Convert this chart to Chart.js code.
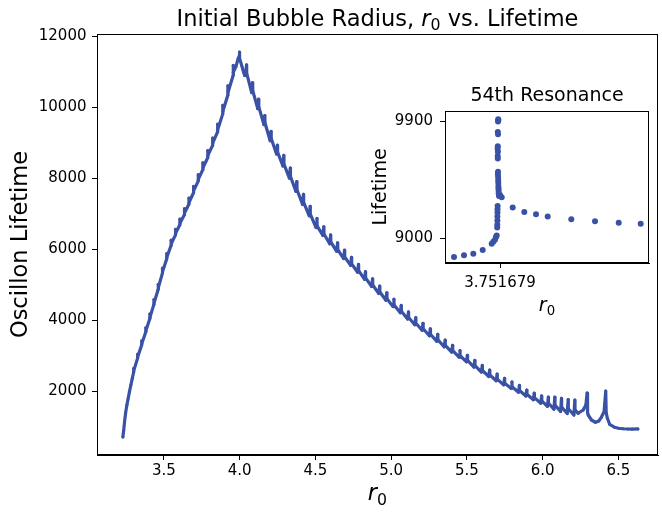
<!DOCTYPE html>
<html><head><meta charset="utf-8">
<script src="https://cdn.jsdelivr.net/npm/chart.js@4/dist/chart.umd.min.js"></script>
<style>
html,body{margin:0;padding:0;background:#fff;}
#wrap{position:relative;width:662px;height:517px;}
#main{position:absolute;left:0;top:0;}
#inset{position:absolute;left:360px;top:80px;}
</style></head>
<body><div id="wrap">
<canvas id="main" width="662" height="517"></canvas>
<canvas id="inset" width="300" height="240"></canvas>
</div>
<script>
// ---------- main chart data (r0, lifetime) ----------
const leftR0 = [3.229,3.234,3.240,3.247,3.255,3.263,3.272,3.282,3.291,
3.300,3.300,3.301, 3.326,3.326,3.327, 3.353,3.353,3.354, 3.380,3.380,3.381, 3.407,3.407,3.408,
3.434,3.434,3.435, 3.462,3.462,3.463, 3.490,3.490,3.491, 3.518,3.518,3.519, 3.547,3.547,3.548,
3.576,3.576,3.577, 3.605,3.605,3.606, 3.635,3.635,3.636, 3.665,3.665,3.666, 3.695,3.695,3.696,
3.726,3.726,3.727, 3.757,3.757,3.758, 3.789,3.789,3.790, 3.821,3.821,3.822, 3.854,3.854,3.855,
3.888,3.888,3.889, 3.922,3.922,3.923, 3.957,3.957,3.958,
3.975,3.990,3.997,3.998,4.000,4.012,4.025,4.033];
const leftLife = [720,900,1150,1400,1610,1790,1990,2190,2370,
2550,2650,2580, 2940,3050,2975, 3307,3427,3343, 3675,3795,3711, 4055,4185,4094,
4460,4590,4499, 4880,5020,4922, 5333,5473,5375, 5734,5884,5779, 6111,6261,6156,
6410,6570,6458, 6697,6857,6745, 6979,7149,7030, 7279,7449,7330, 7597,7777,7651,
7926,8106,7980, 8253,8443,8310, 8586,8786,8646, 8931,9141,8994, 9310,9530,9376,
9820,10060,9892, 10352,10612,10430, 10906,11186,10990,
11150,11380,11450,11560,11380,11200,11000,10900];

// right branch: per resonance -> valley before, peak, value just after
const rightR0 = [4.039,4.045,4.046, 4.079,4.085,4.086, 4.119,4.125,4.126, 4.160,4.166,4.167,
4.201,4.207,4.208, 4.243,4.249,4.250, 4.285,4.291,4.292, 4.328,4.334,4.335, 4.371,4.377,4.378,
4.415,4.421,4.422, 4.459,4.465,4.466, 4.504,4.510,4.511, 4.549,4.555,4.556, 4.594,4.600,4.601,
4.640,4.646,4.647, 4.686,4.692,4.693, 4.732,4.738,4.739, 4.778,4.784,4.785, 4.824,4.830,4.831,
4.871,4.877,4.878, 4.918,4.924,4.925, 4.965,4.971,4.972, 5.012,5.018,5.019, 5.060,5.066,5.067,
5.108,5.114,5.115, 5.156,5.162,5.163, 5.204,5.210,5.211, 5.252,5.258,5.259, 5.301,5.307,5.308,
5.350,5.356,5.357, 5.399,5.405,5.406, 5.448,5.454,5.455, 5.497,5.503,5.504, 5.546,5.552,5.553,
5.595,5.601,5.602, 5.644,5.650,5.651, 5.693,5.699,5.700, 5.742,5.748,5.749, 5.791,5.797,5.798,
5.840,5.846,5.847, 5.889,5.895,5.896, 5.938,5.944,5.945, 5.987,5.993,5.994, 6.031,6.037,6.038,
6.074,6.080,6.081, 6.118,6.124,6.125, 6.162,6.168,6.169, 6.206,6.212,6.213];
const rightLife = [10910,11200,10969, 10420,10700,10476, 9966,10235,10018, 9516,9774,9564,
9065,9327,9124, 8688,8939,8743, 8351,8650,8403, 8008,8295,8056, 7638,7915,7682,
7270,7550,7325, 6948,7215,6999, 6618,6875,6666, 6394,6640,6438, 6160,6410,6212,
5948,6190,5998, 5745,5980,5794, 5551,5780,5597, 5358,5580,5403, 5159,5375,5202,
4958,5175,5001, 4760,4970,4802, 4571,4780,4613, 4391,4600,4436, 4215,4425,4260,
4039,4240,4082, 3879,4080,3922, 3725,3920,3766, 3571,3765,3612, 3412,3610,3456,
3257,3450,3299, 3110,3300,3152, 2965,3155,3007, 2836,3020,2876, 2689,2875,2729,
2549,2735,2592, 2422,2605,2465, 2304,2490,2347, 2187,2370,2230, 2088,2270,2131,
1980,2170,2027, 1871,2041,1922, 1767,1952,1826, 1667,1874,1734, 1582,1843,1668,
1502,1839,1615, 1435,1804,1559, 1381,1772,1513, 1337,1760,1480];

const tailR0 = [6.234,6.267,6.285,6.293,6.296,6.300,6.322,6.348,6.370,6.387,6.405,6.416,6.419,
6.427,6.442,6.475,6.500,6.530,6.562,6.590,6.628];
const tailLife = [1386,1479,1620,1957,1420,1338,1197,1132,1170,1273,1431,2014,1400,
1245,1076,992,965,950,944,940,945];

const mainXTicks = [3.5,4.0,4.5,5.0,5.5,6.0,6.5];
const mainXTickLabels = ['3.5','4.0','4.5','5.0','5.5','6.0','6.5'];
const mainYTicks = [2000,4000,6000,8000,10000,12000];
const mainYTickLabels = ['2000','4000','6000','8000','10000','12000'];

// ---------- inset (54th resonance) ----------
const insetR0 = [3.7516789540,3.7516789640,3.7516789733,3.7516789827,3.7516789917,3.7516789933,
3.7516789950,3.7516789960,3.7516789967,
3.7516789982,3.7516789983,3.7516789980,3.7516789978,3.7516789980,3.7516789978,3.7516789976,
3.7516789979,3.7516789977,3.7516789978,3.7516789980,3.7516789979,3.7516789981,3.7516789982,
3.7516789983,3.7516789984,3.7516789985,3.7516789986,3.7516789987,3.7516789990,
3.7516789976,3.7516789975,3.7516789975,3.7516789974,3.7516789974,3.7516789973,3.7516789972,
3.7516790000,3.7516790017,
3.7516790127,3.7516790243,3.7516790360,3.7516790477,3.7516790713,3.7516790950,3.7516791187,3.7516791407];
const insetLife = [8855,8867,8880,8908,8957,8972,
8987,9008,9020,
9913,9905,9897,9816,9798,9706,9686,
9663,9630,9612,9510,9492,9472,9446,
9426,9400,9382,9365,9344,9324,
9247,9222,9196,9166,9135,9102,9081,
9331,9314,
9234,9201,9183,9166,9145,9130,9117,9110];
const insetXTicks = [3.751679];
const insetXTickLabels = ['3.751679'];
const insetYTicks = [9000,9900];
const insetYTickLabels = ['9000','9900'];

const DOT = '#3a52a6';
const FONT = "'DejaVu Sans'";
Chart.defaults.font.family = FONT;
Chart.defaults.color = '#000';

function toPts(xs, ys){ return xs.map((x,i)=>({x:x, y:ys[i]})); }

// text with math-like pieces, centred at x, baseline at y
function drawMath(ctx, parts, x, y, size, rot){
  ctx.save();
  ctx.translate(x, y);
  if (rot) ctx.rotate(rot);
  let total = 0;
  const items = parts.map(p=>{
    const fs = p.sub ? size*0.7 : size;
    const font = (p.it ? 'italic ' : '') + fs + 'px ' + FONT;
    ctx.font = font;
    const w = ctx.measureText(p.t).width;
    total += w;
    return {t:p.t, sub:p.sub, font:font, w:w};
  });
  let cx = -total/2;
  ctx.textBaseline = 'alphabetic';
  ctx.textAlign = 'left';
  ctx.fillStyle = '#000';
  items.forEach(it=>{
    ctx.font = it.font;
    ctx.fillText(it.t, cx, it.sub ? size*0.22 : 0);
    cx += it.w;
  });
  ctx.restore();
}

function boxPlugin(name, extra){
  return {
    id: name,
    beforeDraw(chart){
      const a = chart.chartArea, ctx = chart.ctx;
      ctx.save(); ctx.fillStyle = '#fff';
      ctx.fillRect(a.left, a.top, a.right-a.left, a.bottom-a.top);
      ctx.restore();
    },
    afterDraw(chart){
      const a = chart.chartArea, ctx = chart.ctx;
      ctx.save();
      ctx.strokeStyle = '#000'; ctx.lineWidth = 1;
      ctx.strokeRect(Math.round(a.left)+0.5, Math.round(a.top)+0.5,
                     Math.round(a.right-a.left)-1, Math.round(a.bottom-a.top)-1);
      ctx.restore();
      extra(ctx, a);
    }
  };
}

const axisCommon = (fs, pad, labels) => ({
  grid: {drawOnChartArea:false, drawTicks:true, tickLength:5, color:'#000', lineWidth:1},
  border: {display:true, color:'#000', width:1},
  ticks: {font:{size:fs}, color:'#000', padding:pad, autoSkip:false, maxRotation:0,
          callback: (v,i)=>labels[i]}
});

// ---------- main chart ----------
new Chart(document.getElementById('main'), {
  type: 'scatter',
  data: { datasets: [{
    data: toPts(leftR0.concat(rightR0, tailR0), leftLife.concat(rightLife, tailLife)),
    showLine: true, borderColor: DOT, borderWidth: 3.2,
    borderJoinStyle: 'round', borderCapStyle: 'round',
    pointRadius: 1.5, pointBackgroundColor: DOT, pointBorderWidth: 0
  }]},
  options: {
    responsive:false, animation:false, devicePixelRatio:1,
    layout: {padding:{top:34, right:3, left:0, bottom:0}},
    plugins: {legend:{display:false}, tooltip:{enabled:false}},
    scales: {
      x: Object.assign(axisCommon(15, 2, mainXTickLabels), {
        type:'linear', min:3.058, max:6.761,
        afterBuildTicks: s => { s.ticks = mainXTicks.map(v=>({value:v})); },
        afterFit: s => { s.height = 62; }
      }),
      y: Object.assign(axisCommon(15, 5.5, mainYTickLabels), {
        type:'linear', min:211, max:12070,
        afterBuildTicks: s => { s.ticks = mainYTicks.map(v=>({value:v})); },
        afterFit: s => { s.width = 97; }
      })
    }
  },
  plugins: [boxPlugin('mainBox', (ctx, a)=>{
    drawMath(ctx, [{t:'Initial Bubble Radius, '},{t:'r',it:true},{t:'0',sub:true},{t:' vs. Lifetime'}],
             (a.left+a.right)/2, 25.5, 22.5);
    drawMath(ctx, [{t:'r',it:true},{t:'0',sub:true}], (a.left+a.right)/2, 500, 22.5);
    drawMath(ctx, [{t:'Oscillon Lifetime'}], 27, (a.top+a.bottom)/2, 22.5, -Math.PI/2);
  })]
});

// ---------- inset chart ----------
new Chart(document.getElementById('inset'), {
  type: 'scatter',
  data: { datasets: [{
    data: toPts(insetR0, insetLife),
    pointRadius: 3, pointBackgroundColor: DOT, pointBorderWidth: 0, showLine:false
  }]},
  options: {
    responsive:false, animation:false, devicePixelRatio:1,
    layout: {padding:{top:31, right:11, left:0, bottom:0}},
    plugins: {legend:{display:false}, tooltip:{enabled:false}},
    scales: {
      x: Object.assign(axisCommon(15, 6, insetXTickLabels), {
        type:'linear', min:3.751678945, max:3.751679149,
        afterBuildTicks: s => { s.ticks = insetXTicks.map(v=>({value:v})); },
        afterFit: s => { s.height = 57; }
      }),
      y: Object.assign(axisCommon(15, 7, insetYTickLabels), {
        type:'linear', min:8808, max:9977,
        afterBuildTicks: s => { s.ticks = insetYTicks.map(v=>({value:v})); },
        afterFit: s => { s.width = 85; }
      })
    }
  },
  plugins: [boxPlugin('insetBox', (ctx, a)=>{
    drawMath(ctx, [{t:'54th Resonance'}], (a.left+a.right)/2, 20.5, 19);
    drawMath(ctx, [{t:'r',it:true},{t:'0',sub:true}], (a.left+a.right)/2, 230.5, 19);
    drawMath(ctx, [{t:'Lifetime'}], 25.5, (a.top+a.bottom)/2, 19, -Math.PI/2);
  })]
});
</script>
</body></html>
